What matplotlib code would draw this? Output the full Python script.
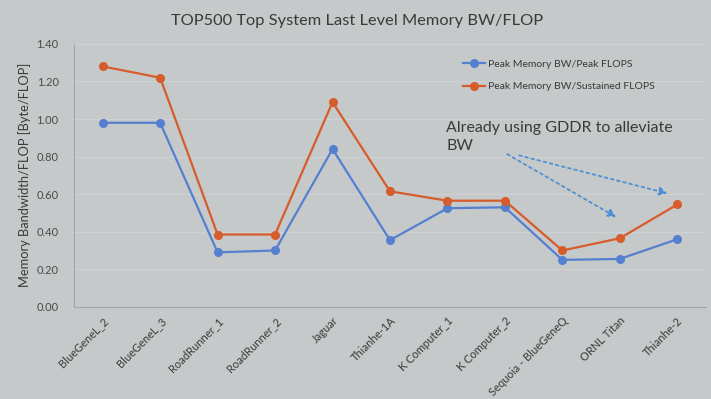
import numpy as np
import matplotlib
matplotlib.use('Agg')
import matplotlib.pyplot as plt

plt.rcParams['font.family'] = ['Lato', 'DejaVu Sans']

# Data
systems = ['BlueGeneL_2', 'BlueGeneL_3', 'RoadRunner_1', 'RoadRunner_2', 'Jaguar',
           'Thianhe-1A', 'K Computer_1', 'K Computer_2', 'Sequoia - BlueGeneQ',
           'ORNL Titan', 'Thianhe-2']
peak_flops = [0.98, 0.98, 0.29, 0.30, 0.84, 0.355, 0.525, 0.53, 0.25, 0.255, 0.36]
sustained_flops = [1.28, 1.22, 0.385, 0.385, 1.09, 0.615, 0.565, 0.565, 0.30, 0.365, 0.545]
y_ticks = [0.0, 0.2, 0.4, 0.6, 0.8, 1.0, 1.2, 1.4]

bg = '#c6c9ca'
blue = '#5580d0'
orange = '#d65c2b'
txt = '#3a3a3a'

fig = plt.figure(figsize=(7.11, 3.99), dpi=100, facecolor=bg)
ax = fig.add_axes([0.104, 0.231, 0.889, 0.659])
ax.set_facecolor(bg)

x = np.arange(len(systems))
ax.plot(x, peak_flops, '-o', color=blue, lw=1.6, ms=5.5, label='Peak Memory BW/Peak FLOPS')
ax.plot(x, sustained_flops, '-o', color=orange, lw=1.6, ms=5.5, label='Peak Memory BW/Sustained FLOPS')

ax.set_xlim(-0.5, len(systems) - 0.5)
ax.set_ylim(0, 1.4)
ax.set_yticks(y_ticks)
ax.set_yticklabels([f'{v:.2f}' for v in y_ticks], fontsize=8, color='#4a4a4a')
ax.set_xticks(x)
ax.set_xticklabels(systems, rotation=45, ha='right', rotation_mode='anchor',
                   fontsize=8, color=txt)
ax.tick_params(axis='x', length=0, pad=6)
ax.tick_params(axis='y', length=0, pad=11)
ax.grid(axis='y', color='#cfd2d3', lw=0.8)
ax.set_axisbelow(True)
for s in ['top', 'right']:
    ax.spines[s].set_visible(False)
ax.spines['left'].set_color('#a4a7a8')
ax.spines['bottom'].set_color('#a4a7a8')

ax.set_ylabel('Memory Bandwidth/FLOP [Byte/FLOP]', fontsize=9.3, color=txt, labelpad=4)
fig.text(0.502, 0.947, 'TOP500 Top System Last Level Memory BW/FLOP', fontsize=11.8,
         color=txt, ha='center', va='center')

leg = ax.legend(loc='upper left', bbox_to_anchor=(0.6, 0.975), frameon=False,
                fontsize=7.5, handlelength=2.2, handletextpad=0.2, labelspacing=1.25)
for t in leg.get_texts():
    t.set_color(txt)

ax.text(5.98, 0.99, 'Already using GDDR to alleviate\nBW', fontsize=11.5, color=txt,
        va='top', ha='left', linespacing=1.35)
arrow = dict(arrowstyle='-|>', linestyle=(0, (1.5, 2)), color='#4d8fd6', lw=1.3,
             mutation_scale=12)
ax.annotate('', xy=(8.98, 0.47), xytext=(7.0, 0.82), arrowprops=arrow)
ax.annotate('', xy=(9.88, 0.60), xytext=(7.2, 0.81), arrowprops=arrow)

fig.savefig('out.png', dpi=100, facecolor=bg)
